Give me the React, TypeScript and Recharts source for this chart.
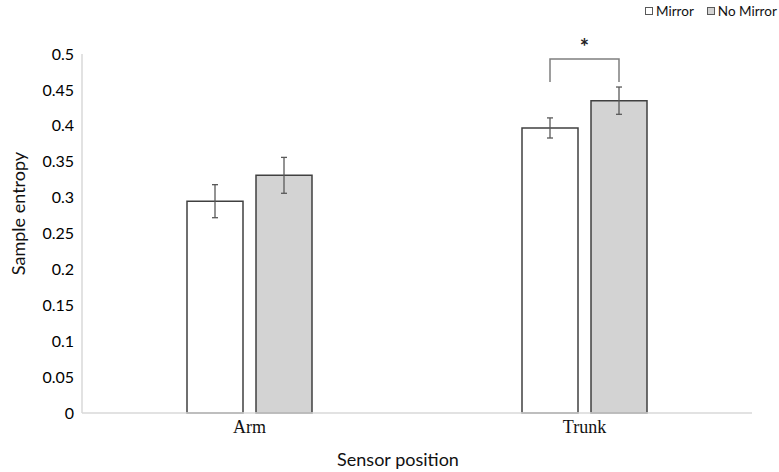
import React from 'react';
import { BarChart, Bar, XAxis, YAxis, ErrorBar, LabelList } from 'recharts';

const categories = ['Arm', 'Trunk'];
const mirror = [0.295, 0.397];
const noMirror = [0.331, 0.435];
const mirrorErr = [0.023, 0.014];
const noMirrorErr = [0.025, 0.019];
const yTicks = [0, 0.05, 0.1, 0.15, 0.2, 0.25, 0.3, 0.35, 0.4, 0.45, 0.5];
const seriesNames = ['Mirror', 'No Mirror'];

// significance bracket (Trunk: Mirror vs No Mirror)
const sigCategory = 'Trunk';
const sigTop = 0.493;
const sigLegEnd = 0.461;
const sigMark = '*';

const data = categories.map((c, i) => ({
  name: c,
  mirror: mirror[i],
  noMirror: noMirror[i],
  mirrorErr: mirrorErr[i],
  noMirrorErr: noMirrorErr[i],
}));

const BAR_SIZE = 56;
const BAR_GAP = 13;
const sans = 'Lato, "Open Sans", sans-serif';

const Bracket = (props: any) => {
  const { x, y, width, height, value, index } = props;
  if (categories[index] !== sigCategory || !value) return null;
  const base = y + height;
  const ppu = height / value;
  const right = x + width / 2;
  const left = right - (width + BAR_GAP);
  const yTop = base - sigTop * ppu;
  const yLeg = base - sigLegEnd * ppu;
  return (
    <g>
      <path
        d={`M${left},${yLeg} L${left},${yTop} L${right},${yTop} L${right},${yLeg}`}
        fill="none"
        stroke="#7f7f7f"
        strokeWidth={1.5}
      />
      <text x={(left + right) / 2} y={yTop - 4} textAnchor="middle" fontFamily={sans} fontWeight="bold" fontSize={22} fill="#222">
        {sigMark}
      </text>
    </g>
  );
};

const YTitle = (props: any) => {
  const vb = props.viewBox || { x: 0, y: 54, width: 82, height: 359 };
  const cx = vb.x + 18;
  const cy = vb.y + vb.height / 2 - 20;
  return (
    <text x={cx} y={cy} transform={`rotate(-90 ${cx} ${cy})`} textAnchor="middle" dominantBaseline="central" fontFamily={sans} fontSize={18} fill="#111">
      Sample entropy
    </text>
  );
};

const XTitle = (props: any) => {
  const vb = props.viewBox || { x: 82, y: 413, width: 670, height: 30 };
  return (
    <text x={vb.x + vb.width / 2 - 19} y={vb.y + 46} textAnchor="middle" dominantBaseline="central" fontFamily={sans} fontSize={18} fill="#111">
      Sensor position
    </text>
  );
};

const legendFills = ['#ffffff', '#d3d3d3'];

export default function App() {
  return (
    <div style={{ position: 'absolute', left: 0, top: 0, width: 779, height: 472, background: '#fff' }}>
      <div style={{ position: 'absolute', left: 645, top: 3, display: 'flex', gap: 13, fontFamily: sans, fontSize: 13.5, color: '#111' }}>
        {seriesNames.map((n, i) => (
          <div key={n} style={{ display: 'flex', alignItems: 'center', gap: 3 }}>
            <span style={{ display: 'inline-block', width: 6, height: 6, border: '1px solid #595959', background: legendFills[i] }} />
            <span>{n}</span>
          </div>
        ))}
      </div>
      <BarChart
        width={779}
        height={472}
        data={data}
        margin={{ top: 54, right: 27, bottom: 29, left: 0 }}
        barSize={BAR_SIZE}
        barGap={BAR_GAP}
      >
        <XAxis
          dataKey="name"
          axisLine={{ stroke: '#d9d9d9', strokeWidth: 1.5 }}
          tickLine={false}
          tickSize={0}
          tickMargin={7}
          height={30}
          tick={{ fill: '#111', fontSize: 18, fontFamily: '"Liberation Serif", "Times New Roman", serif' }}
          label={{ content: <XTitle /> }}
        />
        <YAxis
          width={82}
          domain={[0, 0.5]}
          ticks={yTicks}
          interval={0}
          axisLine={{ stroke: '#d9d9d9', strokeWidth: 1.5 }}
          tickLine={false}
          tickSize={0}
          tickMargin={8}
          tick={{ fill: '#000', fontSize: 16, fontFamily: sans }}
          label={{ content: <YTitle /> }}
        />
        <Bar dataKey="mirror" name={seriesNames[0]} fill="#ffffff" stroke="#404040" strokeWidth={1.5} isAnimationActive={false}>
          <ErrorBar dataKey="mirrorErr" width={3} stroke="#595959" strokeWidth={1.3} direction="y" isAnimationActive={false} />
        </Bar>
        <Bar dataKey="noMirror" name={seriesNames[1]} fill="#d3d3d3" stroke="#404040" strokeWidth={1.5} isAnimationActive={false}>
          <ErrorBar dataKey="noMirrorErr" width={3} stroke="#595959" strokeWidth={1.3} direction="y" isAnimationActive={false} />
          <LabelList dataKey="noMirror" content={<Bracket />} />
        </Bar>
      </BarChart>
    </div>
  );
}
